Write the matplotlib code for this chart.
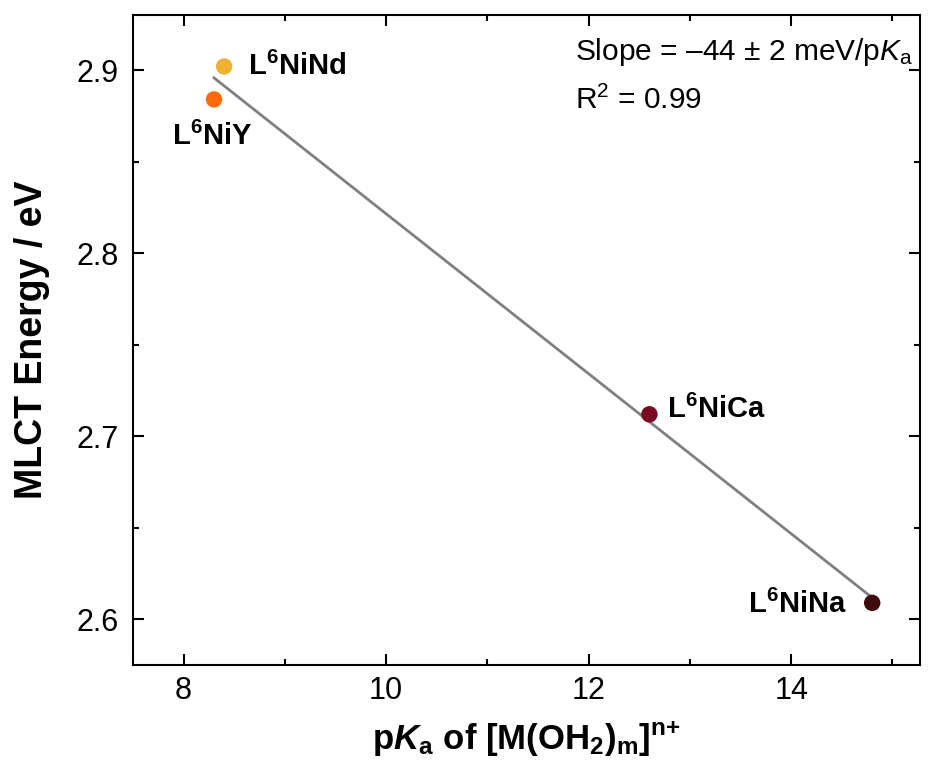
import numpy as np
import matplotlib.pyplot as plt
from matplotlib.ticker import MultipleLocator

plt.rcParams['font.family'] = 'Liberation Sans'
plt.rcParams['mathtext.fontset'] = 'custom'
plt.rcParams['mathtext.rm'] = 'Liberation Sans'
plt.rcParams['mathtext.it'] = 'Liberation Sans:italic'
plt.rcParams['mathtext.bf'] = 'Liberation Sans:bold'
plt.rcParams['mathtext.bfit'] = 'Liberation Sans:bold:italic'

# complexes, pKa of the aqua ion and MLCT band energy
names = ['L$^{\\mathbf{6}}$NiNd', 'L$^{\\mathbf{6}}$NiY', 'L$^{\\mathbf{6}}$NiCa', 'L$^{\\mathbf{6}}$NiNa']
pka = [8.4, 8.3, 12.6, 14.8]
energy = [2.902, 2.884, 2.712, 2.609]
colors = ['#F0B232', '#FF6A0E', '#7A0A22', '#3E0A0C']

# label anchors (data coords) and horizontal alignment
label_x = [8.64, 7.89, 12.77, 14.55]
label_y = [2.902, 2.864, 2.7145, 2.608]
label_ha = ['left', 'left', 'left', 'right']

fig = plt.figure(figsize=(9.3, 7.61), dpi=100)
ax = fig.add_axes([0.143, 0.126, 0.846, 0.854])

# linear fit
m, b = np.polyfit(pka, energy, 1)
xf = np.array([min(pka), max(pka)])
ax.plot(xf, m * xf + b, color='#808080', lw=2.0, zorder=1)

ax.scatter(pka, energy, s=140, c=colors, zorder=2, edgecolors='none')

for name, x, y, ha in zip(names, label_x, label_y, label_ha):
    ax.text(x, y, name, ha=ha, va='center', fontsize=21, fontweight='bold')

ax.text(0.562, 0.943, 'Slope = \u201344 \u00b1 2 meV/p$\\mathit{K}_\\mathrm{a}$',
        transform=ax.transAxes, fontsize=21.5, va='center')
ax.text(0.562, 0.869, 'R$^\\mathrm{2}$ = 0.99', transform=ax.transAxes,
        fontsize=21.5, va='center')

ax.set_xlim(7.5, 15.27)
ax.set_ylim(2.575, 2.93)
ax.xaxis.set_major_locator(MultipleLocator(2))
ax.xaxis.set_minor_locator(MultipleLocator(1))
ax.yaxis.set_major_locator(MultipleLocator(0.1))
ax.yaxis.set_minor_locator(MultipleLocator(0.05))
ax.tick_params(which='both', direction='in', top=True, right=True,
               labelsize=22, width=1.5)
ax.tick_params(which='major', length=8)
ax.tick_params(which='minor', length=4.5)
ax.tick_params(axis='x', which='major', pad=8)
ax.tick_params(axis='y', which='major', pad=10)
for s in ax.spines.values():
    s.set_linewidth(1.5)

ax.set_xlabel('p$\\mathbfit{K}_{\\mathbf{a}}$ of [M(OH$_{\\mathbf{2}}$)$_{\\mathbf{m}}$]$^{\\mathbf{n}\\mathbf{+}}$',
              fontsize=25, fontweight='bold', labelpad=9)
ax.set_ylabel('MLCT Energy / eV', fontsize=27, fontweight='bold', labelpad=19)

fig.savefig('out.png', dpi=100)
